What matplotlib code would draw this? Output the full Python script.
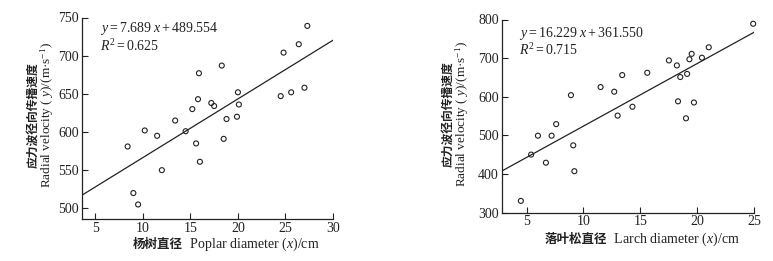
import matplotlib
matplotlib.use("Agg")
import matplotlib.pyplot as plt

# ---- data ----
poplar_x = [8.4, 9.0, 9.5, 10.2, 11.5, 12.0, 13.4, 14.5, 15.2, 15.6, 15.8, 15.9, 16.0,
            17.2, 17.5, 18.3, 18.5, 18.8, 19.9, 20.0, 20.1, 24.5, 24.8, 25.6, 26.4, 27.0, 27.3]
poplar_y = [581, 520, 505, 602, 595, 550, 615, 601, 630, 585, 643, 677, 561,
            638, 634, 687, 591, 617, 620, 652, 636, 647, 704, 652, 715, 658, 739]
poplar_slope, poplar_intercept, poplar_r2 = 7.689, 489.554, 0.625

larch_x = [4.5, 5.4, 6.0, 6.7, 7.2, 7.6, 8.9, 9.1, 9.2, 11.5, 12.7, 13.0, 13.4, 14.3,
           15.6, 17.5, 18.2, 18.3, 18.5, 19.0, 19.1, 19.3, 19.5, 19.7, 20.4, 21.0, 24.9]
larch_y = [330, 450, 499, 429, 499, 529, 604, 474, 407, 625, 613, 551, 656, 574,
           662, 694, 681, 588, 651, 544, 659, 697, 711, 585, 701, 728, 789]
larch_slope, larch_intercept, larch_r2 = 16.229, 361.550, 0.715

poplar_xticks = [5, 10, 15, 20, 25, 30]
poplar_yticks = [500, 550, 600, 650, 700, 750]
larch_xticks = [5, 10, 15, 20, 25]
larch_yticks = [300, 400, 500, 600, 700, 800]

SERIF = ["Liberation Serif", "DejaVu Serif"]
CJK = ["Noto Sans CJK SC", "DejaVu Sans"]
INK = "#222222"

W, H = 773, 261
fig = plt.figure(figsize=(W / 100, H / 100), dpi=100)
plt.rcParams["mathtext.fontset"] = "custom"
plt.rcParams["mathtext.rm"] = "Liberation Serif"
plt.rcParams["mathtext.it"] = "Liberation Serif:italic"


def px_axes(l, r, t, b):
    return fig.add_axes([l / W, 1 - b / H, (r - l) / W, (b - t) / H])


def style(ax, xlim, ylim, xt, yt):
    ax.set_xlim(*xlim)
    ax.set_ylim(*ylim)
    ax.set_xticks(xt)
    ax.set_yticks(yt)
    for s in ["top", "right"]:
        ax.spines[s].set_visible(False)
    for s in ["left", "bottom"]:
        ax.spines[s].set_linewidth(0.9)
        ax.spines[s].set_color(INK)
    ax.tick_params(direction="in", length=4, width=0.8, colors=INK, pad=2,
                   labelsize=10)
    for lab in ax.get_xticklabels() + ax.get_yticklabels():
        lab.set_family(SERIF)


def panel(ax, xs, ys, slope, intercept, r2, xlim, eq_y, r2_y):
    ax.scatter(xs, ys, s=13, facecolors="none", edgecolors=INK, linewidths=0.8,
               zorder=3, clip_on=False)
    lx = list(xlim)
    ax.plot(lx, [slope * v + intercept for v in lx], color=INK, lw=0.9)
    ax.text(0.07, eq_y, r"$y = %.3f\ x + %.3f$" % (slope, intercept),
            transform=ax.transAxes, fontsize=10, va="center", ha="left", color=INK)
    ax.text(0.07, r2_y, r"$R^2 = %.3f$" % r2, transform=ax.transAxes,
            fontsize=10, va="center", ha="left", color=INK)


# left panel
ax1 = px_axes(82, 333, 17.5, 219)
xl1 = (3.6, 30)
style(ax1, xl1, (486, 750), poplar_xticks, poplar_yticks)
panel(ax1, poplar_x, poplar_y, poplar_slope, poplar_intercept, poplar_r2, xl1,
      0.945, 0.86)

# right panel
ax2 = px_axes(501.5, 754.3, 19.5, 212.5)
xl2 = (2.8, 25)
style(ax2, xl2, (300, 800), larch_xticks, larch_yticks)
panel(ax2, larch_x, larch_y, larch_slope, larch_intercept, larch_r2, xl2,
      0.93, 0.84)


def ylab(xc_cn, xc_en, yc):
    fig.text(xc_cn / W, 1 - yc / H, "应力波径向传播速度", family=CJK, fontsize=8.5,
             rotation=90, ha="center", va="center", color=INK, fontweight="bold")
    fig.text(xc_en / W, 1 - yc / H, r"Radial velocity ( $\mathit{y}$)/(m·s$^{-1}$)",
             family=SERIF, fontsize=9.5, rotation=90, ha="center", va="center",
             color=INK)


def xlab(xc, yc, cn, en):
    fig.text(xc / W, 1 - yc / H, cn, family=CJK, fontsize=9,
             fontweight="bold", ha="right", va="center", color=INK)
    fig.text(xc / W, 1 - yc / H, "  " + en, family=SERIF, fontsize=10,
             ha="left", va="center", color=INK)


ylab(33, 47, 115)
ylab(448, 462, 114)
xlab(183, 244, "杨树直径", r"Poplar diameter ($\mathit{x}$)/cm")
xlab(607, 239, "落叶松直径", r"Larch diameter ($\mathit{x}$)/cm")

fig.savefig("out.png", dpi=100)
